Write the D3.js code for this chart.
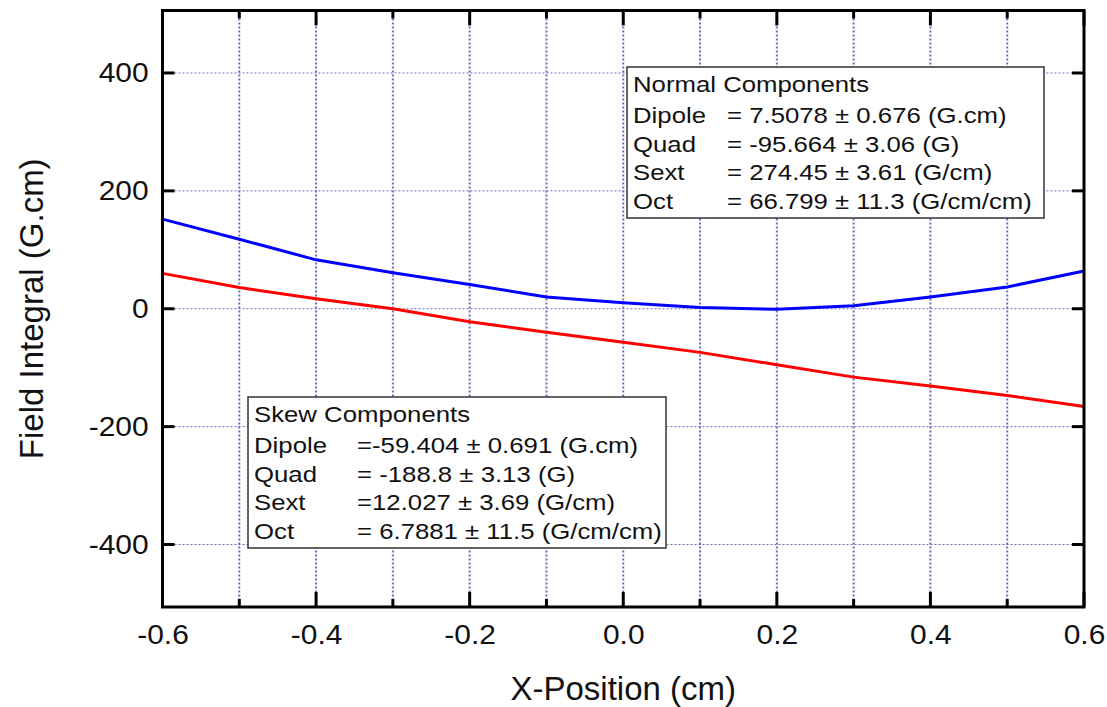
<!DOCTYPE html>
<html>
<head>
<meta charset="utf-8">
<script src="https://cdn.jsdelivr.net/npm/d3@7"></script>
<style>
body { margin: 0; background: #fff; }
text { font-family: "Liberation Sans", Arial, sans-serif; }
</style>
</head>
<body>
<div id="chart"></div>
<script>
var xPos = [-0.6, -0.5, -0.4, -0.3, -0.2, -0.1, 0.0, 0.1, 0.2, 0.3, 0.4, 0.5, 0.6];
var normalVals = [152, 118, 83, 61, 41, 20, 10, 2, -1, 5, 20, 37, 64];
var skewVals = [60, 36, 17, 0, -22, -40, -57, -74, -95, -116, -131, -147, -166];
var xTicks = [-0.6, -0.4, -0.2, 0.0, 0.2, 0.4, 0.6];
var xMinor = [-0.5, -0.3, -0.1, 0.1, 0.3, 0.5];
var yTicks = [-400, -200, 0, 200, 400];
var normalText = [
  ["Dipole", "= 7.5078 \u00b1 0.676 (G.cm)"],
  ["Quad", "= -95.664 \u00b1 3.06 (G)"],
  ["Sext", "= 274.45 \u00b1 3.61 (G/cm)"],
  ["Oct", "= 66.799 \u00b1 11.3 (G/cm/cm)"]
];
var skewText = [
  ["Dipole", "=-59.404 \u00b1 0.691 (G.cm)"],
  ["Quad", "= -188.8 \u00b1 3.13 (G)"],
  ["Sext", "=12.027 \u00b1 3.69 (G/cm)"],
  ["Oct", "= 6.7881 \u00b1 11.5 (G/cm/cm)"]
];

var w = 1107, h = 707;
var pLeft = 162.5, pRight = 1084, pTop = 10.5, pBottom = 607;
var svg = d3.select("#chart").append("svg").attr("width", w).attr("height", h);

var x = d3.scaleLinear().domain([-0.6, 0.6]).range([pLeft, pRight]);
var y = d3.scaleLinear().domain([-506, 506]).range([pBottom, pTop]);
var gridCol = "#6b6bc4";
var hyphen = function(f) { return function(d) { return f(d).replace("\u2212", "-"); }; };

// grid
svg.selectAll(".vgrid").data(xTicks.concat(xMinor)).enter().append("line")
  .attr("x1", function(d) { return x(d); }).attr("x2", function(d) { return x(d); })
  .attr("y1", pTop).attr("y2", pBottom)
  .attr("stroke", gridCol).attr("stroke-width", 2).attr("stroke-dasharray", "2,2");
svg.selectAll(".hgrid").data(yTicks).enter().append("line")
  .attr("x1", pLeft).attr("x2", pRight)
  .attr("y1", function(d) { return y(d); }).attr("y2", function(d) { return y(d); })
  .attr("stroke", gridCol).attr("stroke-width", 1).attr("stroke-dasharray", "2,2");

// lines
var line = d3.line().x(function(d) { return x(d[0]); }).y(function(d) { return y(d[1]); });
svg.append("path").datum(d3.zip(xPos, skewVals)).attr("d", line)
  .attr("fill", "none").attr("stroke", "#ff0000").attr("stroke-width", 3);
svg.append("path").datum(d3.zip(xPos, normalVals)).attr("d", line)
  .attr("fill", "none").attr("stroke", "#0000ff").attr("stroke-width", 3);

// axes (labels only, ticks drawn inside below)
var xb = svg.append("g").attr("transform", "translate(0," + pBottom + ")")
  .call(d3.axisBottom(x).tickValues(xTicks).tickFormat(hyphen(d3.format(".1f"))).tickSize(0).tickPadding(17));
var yl = svg.append("g").attr("transform", "translate(" + pLeft + ",0)")
  .call(d3.axisLeft(y).tickValues(yTicks).tickFormat(hyphen(d3.format("d"))).tickSize(0).tickPadding(13));
[xb, yl].forEach(function(g) { g.select(".domain").remove(); });
xb.selectAll("text").attr("font-size", 28).attr("fill", "#111")
  .attr("transform", "scale(1.07,1)").attr("x", 0);
yl.selectAll("text").attr("font-size", 28).attr("fill", "#111")
  .attr("transform", "scale(1.07,1)");

// inside ticks
function vt(vals, len) {
  svg.selectAll(null).data(vals).enter().append("line")
    .attr("x1", function(d) { return x(d); }).attr("x2", function(d) { return x(d); })
    .attr("y1", pBottom).attr("y2", pBottom - len).attr("stroke", "#000").attr("stroke-width", 3);
  svg.selectAll(null).data(vals).enter().append("line")
    .attr("x1", function(d) { return x(d); }).attr("x2", function(d) { return x(d); })
    .attr("y1", pTop).attr("y2", pTop + len).attr("stroke", "#000").attr("stroke-width", 3);
}
vt(xTicks, 15);
vt(xMinor, 8);
svg.selectAll(null).data(yTicks).enter().append("line")
  .attr("x1", pLeft).attr("x2", pLeft + 12)
  .attr("y1", function(d) { return y(d); }).attr("y2", function(d) { return y(d); })
  .attr("stroke", "#000").attr("stroke-width", 3);
svg.selectAll(null).data(yTicks).enter().append("line")
  .attr("x1", pRight).attr("x2", pRight - 12)
  .attr("y1", function(d) { return y(d); }).attr("y2", function(d) { return y(d); })
  .attr("stroke", "#000").attr("stroke-width", 3);

// frame
svg.append("rect").attr("x", pLeft).attr("y", pTop).attr("width", pRight - pLeft).attr("height", pBottom - pTop)
  .attr("fill", "none").attr("stroke", "#000").attr("stroke-width", 3);

// titles
svg.append("text").attr("x", (pLeft + pRight) / 2).attr("y", 700).attr("text-anchor", "middle")
  .attr("font-size", 33).attr("fill", "#111").text("X-Position (cm)");
svg.append("text").attr("transform", "translate(43," + (pTop + pBottom) / 2 + ") rotate(-90)")
  .attr("text-anchor", "middle").attr("font-size", 33).attr("fill", "#111").text("Field Integral (G.cm)");

// legend boxes
function box(bx, by, bw, bh, title, rows, valX) {
  var g = svg.append("g");
  g.append("rect").attr("x", bx).attr("y", by).attr("width", bw).attr("height", bh)
    .attr("fill", "#fff").attr("stroke", "#333").attr("stroke-width", 1.5);
  function txt(tx, ty, s) {
    g.append("text").attr("transform", "translate(" + tx + "," + ty + ") scale(1.12,1)")
      .attr("font-size", 23).attr("fill", "#111").text(s);
  }
  txt(bx + 6, by + 25, title);
  rows.forEach(function(r, i) {
    txt(bx + 6, by + 56 + i * 28.5, r[0]);
    txt(bx + valX, by + 56 + i * 28.5, r[1]);
  });
}
box(627, 67, 417, 151, "Normal Components", normalText, 100);
box(248, 397, 418, 151, "Skew Components", skewText, 109);
</script>
</body>
</html>
